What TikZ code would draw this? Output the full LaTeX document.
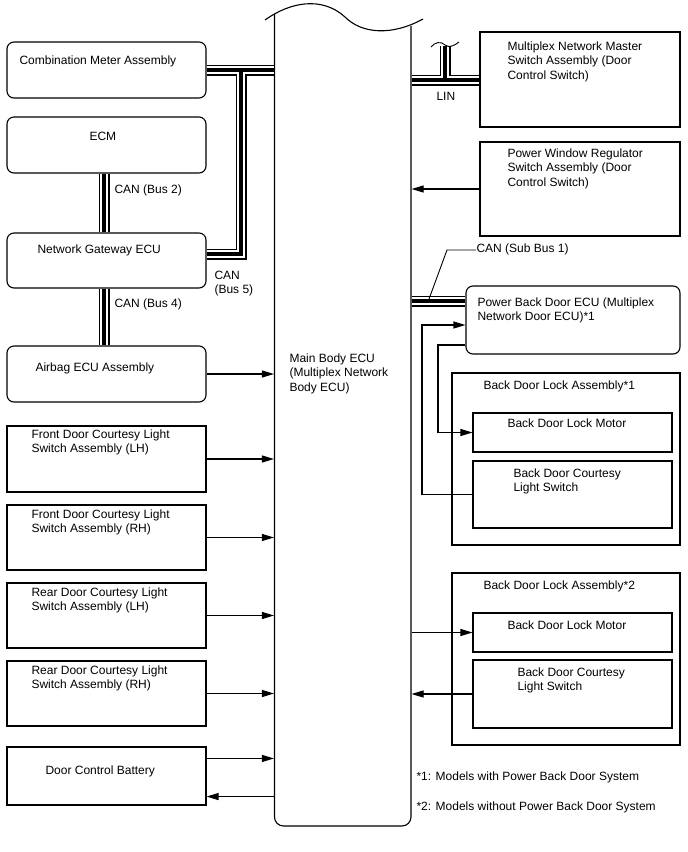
\documentclass[tikz,border=0pt]{standalone}
\usepackage{fontspec}
\setmainfont{Liberation Sans}
\usetikzlibrary{arrows.meta,fit,calc}
\newcommand\twol[2]{\vtop{\hbox{#1}\hbox{#2}}}
\newcommand\threel[3]{\vtop{\hbox{#1}\hbox{#2}\hbox{#3}}}
\begin{document}
\begin{tikzpicture}[x=1pt,y=-1pt,line width=1.1pt,
  font=\fontsize{12}{14.5}\selectfont,
  box/.style={draw,inner sep=0pt,fit={#1}},
  rbox/.style={box={#1},rounded corners=7pt},
  txt/.style={anchor=base west,inner sep=0pt},
  arr/.style={-{Triangle[length=12pt,width=7pt]}},
  bus/.style={draw=black,line width=11pt,
    postaction={draw=white,line width=8.4pt},
    postaction={draw=black,line width=3.8pt}},
  thinl/.style={line width=0.9pt}]
\useasboundingbox (0,0) rectangle (688,852);
% left boxes
\node[rbox={(7,42)(206,98)}] (cm) {};
\node[txt] (cmt) at (19,64) {Combination Meter Assembly};
\node[rbox={(7,117)(206,173)}] (ecm) {};
\node[txt] (ecmt) at (89,140) {ECM};
\node[rbox={(7,233)(206,288)}] (gw) {};
\node[txt] (gwt) at (37,253) {Network Gateway ECU};
\node[rbox={(7,346)(206,402)}] (air) {};
\node[txt] (airt) at (35,371) {Airbag ECU Assembly};
\node[box={(7,426)(206,492)}] (fdl) {};
\node[txt] (fdlt) at (31,438) {\twol{Front Door Courtesy Light}{Switch Assembly (LH)}};
\node[box={(7,505)(206,570)}] (fdr) {};
\node[txt] (fdrt) at (31,518) {\twol{Front Door Courtesy Light}{Switch Assembly (RH)}};
\node[box={(7,583)(206,648)}] (rdl) {};
\node[txt] (rdlt) at (31,596) {\twol{Rear Door Courtesy Light}{Switch Assembly (LH)}};
\node[box={(7,661)(206,726)}] (rdr) {};
\node[txt] (rdrt) at (31,674) {\twol{Rear Door Courtesy Light}{Switch Assembly (RH)}};
\node[box={(7,747)(206,805)}] (batt) {};
\node[txt] (battt) at (45,774) {Door Control Battery};
% main ECU
\node[inner sep=0pt,fit={(274.5,15)(411,826)}] (ecu) {};
\draw (265,20) .. controls (290,2) and (322,-4) .. (345,17) .. controls (362,34) and (392,36) .. (423,19);
\draw[rounded corners=9pt] (274.5,14) -- (274.5,826) -- (411,826) -- (411,26);
\node[txt] (ecut) at (289,362) {\threel{Main Body ECU}{(Multiplex Network}{Body ECU)}};
% right boxes
\node[box={(480,32)(680,127)}] (mm) {};
\node[txt] (mmt) at (507,50) {\threel{Multiplex Network Master}{Switch Assembly (Door}{Control Switch)}};
\node[box={(480,142)(680,236)}] (pw) {};
\node[txt] (pwt) at (507,157) {\threel{Power Window Regulator}{Switch Assembly (Door}{Control Switch)}};
\node[rbox={(466,286)(680,354)}] (pbd) {};
\node[txt] (pbdt) at (477,306) {\twol{Power Back Door ECU (Multiplex}{Network Door ECU)*1}};
\node[box={(452,373)(680,545)}] (bla1) {};
\node[txt] (bla1t) at (483,389) {Back Door Lock Assembly*1};
\node[box={(473,413)(672,452)}] (mot1) {};
\node[txt] (mot1t) at (507,427) {Back Door Lock Motor};
\node[box={(473,461)(672,528)}] (sw1) {};
\node[txt] (sw1t) at (513,477) {\twol{Back Door Courtesy}{Light Switch}};
\node[box={(452,573)(680,745)}] (bla2) {};
\node[txt] (bla2t) at (483,589) {Back Door Lock Assembly*2};
\node[box={(473,613)(672,652)}] (mot2) {};
\node[txt] (mot2t) at (507,629) {Back Door Lock Motor};
\node[box={(473,660)(672,728)}] (sw2) {};
\node[txt] (sw2t) at (517,676) {\twol{Back Door Courtesy}{Light Switch}};
% buses
\coordinate (j1) at (241,0);
\coordinate (g1) at ($(gw.east)+(0,-6.5)$);
\draw[bus] (cm.east) -- (cm.east -| ecu.west) (cm.east -| j1) -- (j1 |- g1) -- (g1);
\coordinate (b2) at (104,0);
\draw[bus] (ecm.south -| b2) -- (gw.north -| b2);
\draw[bus] (gw.south -| b2) -- (air.north -| b2);
\node[txt] (can2) at (114,193) {CAN (Bus 2)};
\node[txt] (can4) at (114,307) {CAN (Bus 4)};
\node[txt] (can5) at (214,279) {\twol{CAN}{(Bus 5)}};
\coordinate (l1) at (0,80);
\coordinate (l2) at (445,80);
\coordinate (l3) at (445,46);
\draw[bus] (l1 -| ecu.east) -- (l1 -| mm.west) (l2) -- (l3);
\draw[thinl] (431,47) .. controls (435,42) and (441,41) .. (445,45) .. controls (449,48) and (454,46) .. (459,42);
\node[txt] (lin) at (436,100) {LIN};
\coordinate (s1) at (0,301);
\draw[bus] (s1 -| ecu.east) -- (s1 -| pbd.west);
\coordinate (ld1) at (429,299);
\coordinate (ld2) at (447,250);
\node[txt] (sub1) at (476,252) {CAN (Sub Bus 1)};
\draw[thinl] (ld1) -- (ld2) -- (sub1.base west |- ld2);
% left arrows
\draw[arr] (air.east) -- (air.east -| ecu.west);
\draw[arr] (fdl.east) -- (fdl.east -| ecu.west);
\draw[arr] (fdr.east) -- (fdr.east -| ecu.west);
\draw[arr] (rdl.east) -- (rdl.east -| ecu.west);
\draw[arr] (rdr.east) -- (rdr.east -| ecu.west);
\coordinate (bt1) at ($(batt.north east)+(0,12)$);
\coordinate (bt2) at ($(batt.south east)+(0,-9)$);
\draw[arr] (bt1) -- (bt1 -| ecu.west);
\draw[arr] (bt2 -| ecu.west) -- (bt2);
% right arrows
\coordinate (p1) at (0,189);
\draw[arr] (p1 -| pw.west) -- (p1 -| ecu.east);
\coordinate (c1) at (422,325);
\draw[arr] (sw1.west) -| (c1) -- (c1 -| pbd.west);
\coordinate (c2) at (438,345);
\draw[arr] (c2 -| pbd.west) -- (c2) |- (mot1.west);
\draw[arr] (mot2.west -| ecu.east) -- (mot2.west);
\draw[arr] (sw2.west) -- (sw2.west -| ecu.east);
% notes
\node[txt] (n1) at (416,780) {*1: Models with Power Back Door System};
\node[txt] (n2) at (416,810) {*2: Models without Power Back Door System};
\end{tikzpicture}
\end{document}
